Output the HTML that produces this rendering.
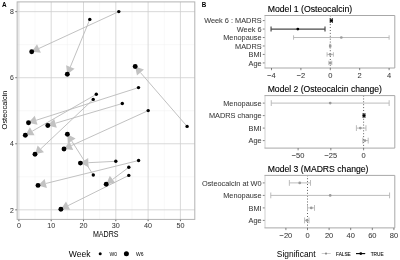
<!DOCTYPE html>
<html><head><meta charset="utf-8"><style>
html,body{margin:0;padding:0;background:#fff;width:400px;height:260px;overflow:hidden}
svg{display:block;filter:grayscale(1)}
text{font-family:"Liberation Sans", sans-serif}
</style></head><body>
<svg width="400" height="260" viewBox="0 0 400 260">
<rect width="400" height="260" fill="#fff"/>
<line x1="35.05" y1="1.9" x2="35.05" y2="219.4" stroke="#f1f1f1" stroke-width="0.5"/>
<line x1="67.35" y1="1.9" x2="67.35" y2="219.4" stroke="#f1f1f1" stroke-width="0.5"/>
<line x1="99.65" y1="1.9" x2="99.65" y2="219.4" stroke="#f1f1f1" stroke-width="0.5"/>
<line x1="131.95" y1="1.9" x2="131.95" y2="219.4" stroke="#f1f1f1" stroke-width="0.5"/>
<line x1="164.25" y1="1.9" x2="164.25" y2="219.4" stroke="#f1f1f1" stroke-width="0.5"/>
<line x1="17.15" y1="176.80" x2="194.8" y2="176.80" stroke="#f1f1f1" stroke-width="0.5"/>
<line x1="17.15" y1="110.74" x2="194.8" y2="110.74" stroke="#f1f1f1" stroke-width="0.5"/>
<line x1="17.15" y1="44.68" x2="194.8" y2="44.68" stroke="#f1f1f1" stroke-width="0.5"/>
<line x1="18.90" y1="1.9" x2="18.90" y2="219.4" stroke="#cfcfcf" stroke-width="0.8"/>
<line x1="51.20" y1="1.9" x2="51.20" y2="219.4" stroke="#cfcfcf" stroke-width="0.8"/>
<line x1="83.50" y1="1.9" x2="83.50" y2="219.4" stroke="#cfcfcf" stroke-width="0.8"/>
<line x1="115.80" y1="1.9" x2="115.80" y2="219.4" stroke="#cfcfcf" stroke-width="0.8"/>
<line x1="148.10" y1="1.9" x2="148.10" y2="219.4" stroke="#cfcfcf" stroke-width="0.8"/>
<line x1="180.40" y1="1.9" x2="180.40" y2="219.4" stroke="#cfcfcf" stroke-width="0.8"/>
<line x1="17.15" y1="209.83" x2="194.8" y2="209.83" stroke="#cfcfcf" stroke-width="0.8"/>
<line x1="17.15" y1="143.77" x2="194.8" y2="143.77" stroke="#cfcfcf" stroke-width="0.8"/>
<line x1="17.15" y1="77.71" x2="194.8" y2="77.71" stroke="#cfcfcf" stroke-width="0.8"/>
<line x1="17.15" y1="11.65" x2="194.8" y2="11.65" stroke="#cfcfcf" stroke-width="0.8"/>
<rect x="17.15" y="1.9" width="177.65" height="217.50" fill="none" stroke="#b3b3b3" stroke-width="1"/>
<line x1="18.90" y1="219.8" x2="18.90" y2="221.20000000000002" stroke="#333" stroke-width="0.8"/>
<text x="18.90" y="228.0" font-size="8.1" fill="#383838" stroke="#383838" stroke-width="0.05" text-anchor="middle" textLength="4.00" lengthAdjust="spacingAndGlyphs">0</text>
<line x1="51.20" y1="219.8" x2="51.20" y2="221.20000000000002" stroke="#333" stroke-width="0.8"/>
<text x="51.20" y="228.0" font-size="8.1" fill="#383838" stroke="#383838" stroke-width="0.05" text-anchor="middle" textLength="8.01" lengthAdjust="spacingAndGlyphs">10</text>
<line x1="83.50" y1="219.8" x2="83.50" y2="221.20000000000002" stroke="#333" stroke-width="0.8"/>
<text x="83.50" y="228.0" font-size="8.1" fill="#383838" stroke="#383838" stroke-width="0.05" text-anchor="middle" textLength="8.01" lengthAdjust="spacingAndGlyphs">20</text>
<line x1="115.80" y1="219.8" x2="115.80" y2="221.20000000000002" stroke="#333" stroke-width="0.8"/>
<text x="115.80" y="228.0" font-size="8.1" fill="#383838" stroke="#383838" stroke-width="0.05" text-anchor="middle" textLength="8.01" lengthAdjust="spacingAndGlyphs">30</text>
<line x1="148.10" y1="219.8" x2="148.10" y2="221.20000000000002" stroke="#333" stroke-width="0.8"/>
<text x="148.10" y="228.0" font-size="8.1" fill="#383838" stroke="#383838" stroke-width="0.05" text-anchor="middle" textLength="8.01" lengthAdjust="spacingAndGlyphs">40</text>
<line x1="180.40" y1="219.8" x2="180.40" y2="221.20000000000002" stroke="#333" stroke-width="0.8"/>
<text x="180.40" y="228.0" font-size="8.1" fill="#383838" stroke="#383838" stroke-width="0.05" text-anchor="middle" textLength="8.01" lengthAdjust="spacingAndGlyphs">50</text>
<line x1="15.349999999999998" y1="209.83" x2="16.75" y2="209.83" stroke="#333" stroke-width="0.8"/>
<text x="13.8" y="212.53" font-size="8.1" fill="#383838" stroke="#383838" stroke-width="0.05" text-anchor="end" textLength="3.84" lengthAdjust="spacingAndGlyphs">2</text>
<line x1="15.349999999999998" y1="143.77" x2="16.75" y2="143.77" stroke="#333" stroke-width="0.8"/>
<text x="13.8" y="146.47" font-size="8.1" fill="#383838" stroke="#383838" stroke-width="0.05" text-anchor="end" textLength="3.84" lengthAdjust="spacingAndGlyphs">4</text>
<line x1="15.349999999999998" y1="77.71" x2="16.75" y2="77.71" stroke="#333" stroke-width="0.8"/>
<text x="13.8" y="80.41" font-size="8.1" fill="#383838" stroke="#383838" stroke-width="0.05" text-anchor="end" textLength="3.84" lengthAdjust="spacingAndGlyphs">6</text>
<line x1="15.349999999999998" y1="11.65" x2="16.75" y2="11.65" stroke="#333" stroke-width="0.8"/>
<text x="13.8" y="14.35" font-size="8.1" fill="#383838" stroke="#383838" stroke-width="0.05" text-anchor="end" textLength="3.84" lengthAdjust="spacingAndGlyphs">8</text>
<text x="105.75" y="236.6" font-size="8.2" fill="#000" text-anchor="middle" textLength="25.6" lengthAdjust="spacingAndGlyphs">MADRS</text>
<text transform="translate(6.5,110) rotate(-90)" font-size="7.8" fill="#000" text-anchor="middle" textLength="38.8" lengthAdjust="spacingAndGlyphs">Osteocalcin</text>
<text x="2.0" y="6.8" font-size="6.6" font-weight="bold" fill="#000" textLength="4.6" lengthAdjust="spacingAndGlyphs">A</text>
<line x1="118.8" y1="11.6" x2="38.96" y2="48.45" stroke="#bababa" stroke-width="0.9"/>
<polygon points="31.70,51.80 37.03,44.25 40.90,52.64" fill="#c2c2c2"/>
<line x1="89.8" y1="19.4" x2="70.33" y2="66.90" stroke="#bababa" stroke-width="0.9"/>
<polygon points="67.30,74.30 66.06,65.15 74.61,68.65" fill="#c2c2c2"/>
<line x1="187.1" y1="126.4" x2="140.44" y2="72.55" stroke="#bababa" stroke-width="0.9"/>
<polygon points="135.20,66.50 143.93,69.52 136.95,75.57" fill="#c2c2c2"/>
<line x1="138.5" y1="87.6" x2="36.12" y2="120.27" stroke="#bababa" stroke-width="0.9"/>
<polygon points="28.50,122.70 34.72,115.87 37.53,124.67" fill="#c2c2c2"/>
<line x1="122.3" y1="103.5" x2="55.47" y2="123.23" stroke="#bababa" stroke-width="0.9"/>
<polygon points="47.80,125.50 54.16,118.80 56.78,127.66" fill="#c2c2c2"/>
<line x1="96.3" y1="94.3" x2="32.23" y2="131.21" stroke="#bababa" stroke-width="0.9"/>
<polygon points="25.30,135.20 29.93,127.20 34.54,135.21" fill="#c2c2c2"/>
<line x1="93.3" y1="175.0" x2="71.69" y2="140.95" stroke="#bababa" stroke-width="0.9"/>
<polygon points="67.40,134.20 75.59,138.48 67.79,143.43" fill="#c2c2c2"/>
<line x1="148.2" y1="110.6" x2="71.28" y2="145.68" stroke="#bababa" stroke-width="0.9"/>
<polygon points="64.00,149.00 69.36,141.48 73.20,149.88" fill="#c2c2c2"/>
<line x1="93.2" y1="99.4" x2="40.82" y2="148.81" stroke="#bababa" stroke-width="0.9"/>
<polygon points="35.00,154.30 37.65,145.45 43.99,152.17" fill="#c2c2c2"/>
<line x1="115.8" y1="161.3" x2="88.39" y2="162.69" stroke="#bababa" stroke-width="0.9"/>
<polygon points="80.40,163.10 88.16,158.08 88.62,167.31" fill="#c2c2c2"/>
<line x1="138.6" y1="160.5" x2="45.77" y2="183.48" stroke="#bababa" stroke-width="0.9"/>
<polygon points="38.00,185.40 44.66,178.99 46.88,187.96" fill="#c2c2c2"/>
<line x1="128.8" y1="167.3" x2="112.61" y2="179.41" stroke="#bababa" stroke-width="0.9"/>
<polygon points="106.20,184.20 109.84,175.71 115.37,183.11" fill="#c2c2c2"/>
<line x1="128.8" y1="175.4" x2="68.06" y2="205.63" stroke="#bababa" stroke-width="0.9"/>
<polygon points="60.90,209.20 66.00,201.50 70.12,209.77" fill="#c2c2c2"/>
<circle cx="118.8" cy="11.6" r="1.7" fill="#000"/>
<circle cx="31.7" cy="51.8" r="2.45" fill="#000"/>
<circle cx="89.8" cy="19.4" r="1.7" fill="#000"/>
<circle cx="67.3" cy="74.3" r="2.45" fill="#000"/>
<circle cx="187.1" cy="126.4" r="1.7" fill="#000"/>
<circle cx="135.2" cy="66.5" r="2.45" fill="#000"/>
<circle cx="138.5" cy="87.6" r="1.7" fill="#000"/>
<circle cx="28.5" cy="122.7" r="2.45" fill="#000"/>
<circle cx="122.3" cy="103.5" r="1.7" fill="#000"/>
<circle cx="47.8" cy="125.5" r="2.45" fill="#000"/>
<circle cx="96.3" cy="94.3" r="1.7" fill="#000"/>
<circle cx="25.3" cy="135.2" r="2.45" fill="#000"/>
<circle cx="93.3" cy="175.0" r="1.7" fill="#000"/>
<circle cx="67.4" cy="134.2" r="2.45" fill="#000"/>
<circle cx="148.2" cy="110.6" r="1.7" fill="#000"/>
<circle cx="64.0" cy="149.0" r="2.45" fill="#000"/>
<circle cx="93.2" cy="99.4" r="1.7" fill="#000"/>
<circle cx="35.0" cy="154.3" r="2.45" fill="#000"/>
<circle cx="115.8" cy="161.3" r="1.7" fill="#000"/>
<circle cx="80.4" cy="163.1" r="2.45" fill="#000"/>
<circle cx="138.6" cy="160.5" r="1.7" fill="#000"/>
<circle cx="38.0" cy="185.4" r="2.45" fill="#000"/>
<circle cx="128.8" cy="167.3" r="1.7" fill="#000"/>
<circle cx="106.2" cy="184.2" r="2.45" fill="#000"/>
<circle cx="128.8" cy="175.4" r="1.7" fill="#000"/>
<circle cx="60.9" cy="209.2" r="2.45" fill="#000"/>
<text x="68.8" y="257.1" font-size="8.4" fill="#000" textLength="21.7" lengthAdjust="spacingAndGlyphs">Week</text>
<circle cx="100.2" cy="253.8" r="1.5" fill="#000"/>
<text x="109.5" y="255.6" font-size="5" fill="#000">W0</text>
<circle cx="126.4" cy="253.8" r="2.5" fill="#000"/>
<text x="136" y="255.6" font-size="5" fill="#000">W6</text>
<text x="201.7" y="6.8" font-size="6.6" font-weight="bold" fill="#000" textLength="4.5" lengthAdjust="spacingAndGlyphs">B</text>
<text x="267.7" y="11.60" font-size="8.7" fill="#000" stroke="#000" stroke-width="0.12" textLength="84.5" lengthAdjust="spacingAndGlyphs">Model 1 (Osteocalcin)</text>
<line x1="330.30" y1="15.5" x2="330.30" y2="68.0" stroke="#222" stroke-width="0.8" stroke-dasharray="0.9,2"/>
<text x="261.6" y="23.28" font-size="7.9" fill="#383838" stroke="#383838" stroke-width="0.05" text-anchor="end" textLength="57.45" lengthAdjust="spacingAndGlyphs">Week 6 : MADRS</text>
<line x1="262.8" y1="20.58" x2="265.0" y2="20.58" stroke="#333" stroke-width="0.6"/>
<text x="261.6" y="31.75" font-size="7.9" fill="#383838" stroke="#383838" stroke-width="0.05" text-anchor="end" textLength="24.78" lengthAdjust="spacingAndGlyphs">Week 6</text>
<line x1="262.8" y1="29.05" x2="265.0" y2="29.05" stroke="#333" stroke-width="0.6"/>
<text x="261.6" y="40.22" font-size="7.9" fill="#383838" stroke="#383838" stroke-width="0.05" text-anchor="end" textLength="38.41" lengthAdjust="spacingAndGlyphs">Menopause</text>
<line x1="262.8" y1="37.52" x2="265.0" y2="37.52" stroke="#333" stroke-width="0.6"/>
<text x="261.6" y="48.68" font-size="7.9" fill="#383838" stroke="#383838" stroke-width="0.05" text-anchor="end" textLength="26.54" lengthAdjust="spacingAndGlyphs">MADRS</text>
<line x1="262.8" y1="45.98" x2="265.0" y2="45.98" stroke="#333" stroke-width="0.6"/>
<text x="261.6" y="57.15" font-size="7.9" fill="#383838" stroke="#383838" stroke-width="0.05" text-anchor="end" textLength="13.07" lengthAdjust="spacingAndGlyphs">BMI</text>
<line x1="262.8" y1="54.45" x2="265.0" y2="54.45" stroke="#333" stroke-width="0.6"/>
<text x="261.6" y="65.62" font-size="7.9" fill="#383838" stroke="#383838" stroke-width="0.05" text-anchor="end" textLength="13.08" lengthAdjust="spacingAndGlyphs">Age</text>
<line x1="262.8" y1="62.92" x2="265.0" y2="62.92" stroke="#333" stroke-width="0.6"/>
<line x1="330.30" y1="20.58" x2="332.36" y2="20.58" stroke="#4a4a4a" stroke-width="1.2"/>
<line x1="330.30" y1="18.08" x2="330.30" y2="23.08" stroke="#4a4a4a" stroke-width="1.2"/>
<line x1="332.36" y1="18.08" x2="332.36" y2="23.08" stroke="#4a4a4a" stroke-width="1.2"/>
<circle cx="331.33" cy="20.58" r="1.4" fill="#000"/>
<line x1="271.06" y1="29.05" x2="325.01" y2="29.05" stroke="#4a4a4a" stroke-width="1.2"/>
<line x1="271.06" y1="26.55" x2="271.06" y2="31.55" stroke="#4a4a4a" stroke-width="1.2"/>
<line x1="325.01" y1="26.55" x2="325.01" y2="31.55" stroke="#4a4a4a" stroke-width="1.2"/>
<circle cx="297.81" cy="29.05" r="1.4" fill="#000"/>
<line x1="293.55" y1="37.52" x2="389.10" y2="37.52" stroke="#b8b8b8" stroke-width="0.95"/>
<line x1="293.55" y1="35.32" x2="293.55" y2="39.72" stroke="#b8b8b8" stroke-width="0.95"/>
<line x1="389.10" y1="35.32" x2="389.10" y2="39.72" stroke="#b8b8b8" stroke-width="0.95"/>
<circle cx="341.32" cy="37.52" r="1.35" fill="#9a9a9a"/>
<line x1="329.56" y1="45.98" x2="330.74" y2="45.98" stroke="#b8b8b8" stroke-width="0.95"/>
<line x1="329.56" y1="43.78" x2="329.56" y2="48.18" stroke="#b8b8b8" stroke-width="0.95"/>
<line x1="330.74" y1="43.78" x2="330.74" y2="48.18" stroke="#b8b8b8" stroke-width="0.95"/>
<circle cx="330.15" cy="45.98" r="1.35" fill="#9a9a9a"/>
<line x1="327.07" y1="54.45" x2="333.39" y2="54.45" stroke="#b8b8b8" stroke-width="0.95"/>
<line x1="327.07" y1="52.25" x2="327.07" y2="56.65" stroke="#b8b8b8" stroke-width="0.95"/>
<line x1="333.39" y1="52.25" x2="333.39" y2="56.65" stroke="#b8b8b8" stroke-width="0.95"/>
<circle cx="330.15" cy="54.45" r="1.35" fill="#9a9a9a"/>
<line x1="328.83" y1="62.92" x2="331.77" y2="62.92" stroke="#b8b8b8" stroke-width="0.95"/>
<line x1="328.83" y1="60.72" x2="328.83" y2="65.12" stroke="#b8b8b8" stroke-width="0.95"/>
<line x1="331.77" y1="60.72" x2="331.77" y2="65.12" stroke="#b8b8b8" stroke-width="0.95"/>
<circle cx="330.30" cy="62.92" r="1.35" fill="#9a9a9a"/>
<line x1="265.0" y1="15.5" x2="265.0" y2="68.0" stroke="#cacaca" stroke-width="0.9"/>
<path d="M264.5 15.5H394.8V68.0H264.5" fill="none" stroke="#a8a8a8" stroke-width="1"/>
<line x1="271.50" y1="68.0" x2="271.50" y2="70.2" stroke="#333" stroke-width="0.6"/>
<text x="271.50" y="77.70" font-size="8.0" fill="#383838" stroke="#383838" stroke-width="0.05" text-anchor="middle" textLength="8.55" lengthAdjust="spacingAndGlyphs">−4</text>
<line x1="300.90" y1="68.0" x2="300.90" y2="70.2" stroke="#333" stroke-width="0.6"/>
<text x="300.90" y="77.70" font-size="8.0" fill="#383838" stroke="#383838" stroke-width="0.05" text-anchor="middle" textLength="8.55" lengthAdjust="spacingAndGlyphs">−2</text>
<line x1="330.30" y1="68.0" x2="330.30" y2="70.2" stroke="#333" stroke-width="0.6"/>
<text x="330.30" y="77.70" font-size="8.0" fill="#383838" stroke="#383838" stroke-width="0.05" text-anchor="middle" textLength="4.17" lengthAdjust="spacingAndGlyphs">0</text>
<line x1="359.70" y1="68.0" x2="359.70" y2="70.2" stroke="#333" stroke-width="0.6"/>
<text x="359.70" y="77.70" font-size="8.0" fill="#383838" stroke="#383838" stroke-width="0.05" text-anchor="middle" textLength="4.17" lengthAdjust="spacingAndGlyphs">2</text>
<line x1="389.10" y1="68.0" x2="389.10" y2="70.2" stroke="#333" stroke-width="0.6"/>
<text x="389.10" y="77.70" font-size="8.0" fill="#383838" stroke="#383838" stroke-width="0.05" text-anchor="middle" textLength="4.17" lengthAdjust="spacingAndGlyphs">4</text>
<text x="267.7" y="91.70" font-size="8.7" fill="#000" stroke="#000" stroke-width="0.12" textLength="114.3" lengthAdjust="spacingAndGlyphs">Model 2 (Osteocalcin change)</text>
<line x1="363.60" y1="95.6" x2="363.60" y2="148.1" stroke="#222" stroke-width="0.8" stroke-dasharray="0.9,2"/>
<text x="261.6" y="105.80" font-size="7.9" fill="#383838" stroke="#383838" stroke-width="0.05" text-anchor="end" textLength="38.41" lengthAdjust="spacingAndGlyphs">Menopause</text>
<line x1="262.8" y1="103.10" x2="265.0" y2="103.10" stroke="#333" stroke-width="0.6"/>
<text x="261.6" y="118.30" font-size="7.9" fill="#383838" stroke="#383838" stroke-width="0.05" text-anchor="end" textLength="52.70" lengthAdjust="spacingAndGlyphs">MADRS change</text>
<line x1="262.8" y1="115.60" x2="265.0" y2="115.60" stroke="#333" stroke-width="0.6"/>
<text x="261.6" y="130.80" font-size="7.9" fill="#383838" stroke="#383838" stroke-width="0.05" text-anchor="end" textLength="13.07" lengthAdjust="spacingAndGlyphs">BMI</text>
<line x1="262.8" y1="128.10" x2="265.0" y2="128.10" stroke="#333" stroke-width="0.6"/>
<text x="261.6" y="143.30" font-size="7.9" fill="#383838" stroke="#383838" stroke-width="0.05" text-anchor="end" textLength="13.08" lengthAdjust="spacingAndGlyphs">Age</text>
<line x1="262.8" y1="140.60" x2="265.0" y2="140.60" stroke="#333" stroke-width="0.6"/>
<line x1="271.25" y1="103.10" x2="389.15" y2="103.10" stroke="#b8b8b8" stroke-width="0.95"/>
<line x1="271.25" y1="100.20" x2="271.25" y2="106.00" stroke="#b8b8b8" stroke-width="0.95"/>
<line x1="389.15" y1="100.20" x2="389.15" y2="106.00" stroke="#b8b8b8" stroke-width="0.95"/>
<circle cx="330.20" cy="103.10" r="1.35" fill="#9a9a9a"/>
<line x1="363.14" y1="115.60" x2="364.91" y2="115.60" stroke="#4a4a4a" stroke-width="1.2"/>
<line x1="363.14" y1="113.10" x2="363.14" y2="118.10" stroke="#4a4a4a" stroke-width="1.2"/>
<line x1="364.91" y1="113.10" x2="364.91" y2="118.10" stroke="#4a4a4a" stroke-width="1.2"/>
<circle cx="363.99" cy="115.60" r="1.4" fill="#000"/>
<line x1="356.40" y1="128.10" x2="365.96" y2="128.10" stroke="#b8b8b8" stroke-width="0.95"/>
<line x1="356.40" y1="125.20" x2="356.40" y2="131.00" stroke="#b8b8b8" stroke-width="0.95"/>
<line x1="365.96" y1="125.20" x2="365.96" y2="131.00" stroke="#b8b8b8" stroke-width="0.95"/>
<circle cx="360.33" cy="128.10" r="1.35" fill="#9a9a9a"/>
<line x1="362.81" y1="140.60" x2="368.19" y2="140.60" stroke="#b8b8b8" stroke-width="0.95"/>
<line x1="362.81" y1="137.70" x2="362.81" y2="143.50" stroke="#b8b8b8" stroke-width="0.95"/>
<line x1="368.19" y1="137.70" x2="368.19" y2="143.50" stroke="#b8b8b8" stroke-width="0.95"/>
<circle cx="364.91" cy="140.60" r="1.35" fill="#9a9a9a"/>
<line x1="265.0" y1="95.6" x2="265.0" y2="148.1" stroke="#cacaca" stroke-width="0.9"/>
<path d="M264.5 95.6H394.8V148.1H264.5" fill="none" stroke="#a8a8a8" stroke-width="1"/>
<line x1="298.10" y1="148.1" x2="298.10" y2="150.29999999999998" stroke="#333" stroke-width="0.6"/>
<text x="298.10" y="157.80" font-size="8.0" fill="#383838" stroke="#383838" stroke-width="0.05" text-anchor="middle" textLength="12.72" lengthAdjust="spacingAndGlyphs">−50</text>
<line x1="330.85" y1="148.1" x2="330.85" y2="150.29999999999998" stroke="#333" stroke-width="0.6"/>
<text x="330.85" y="157.80" font-size="8.0" fill="#383838" stroke="#383838" stroke-width="0.05" text-anchor="middle" textLength="12.72" lengthAdjust="spacingAndGlyphs">−25</text>
<line x1="363.60" y1="148.1" x2="363.60" y2="150.29999999999998" stroke="#333" stroke-width="0.6"/>
<text x="363.60" y="157.80" font-size="8.0" fill="#383838" stroke="#383838" stroke-width="0.05" text-anchor="middle" textLength="4.17" lengthAdjust="spacingAndGlyphs">0</text>
<text x="267.7" y="171.50" font-size="8.7" fill="#000" stroke="#000" stroke-width="0.12" textLength="100.8" lengthAdjust="spacingAndGlyphs">Model 3 (MADRS change)</text>
<line x1="307.50" y1="175.4" x2="307.50" y2="227.9" stroke="#222" stroke-width="0.8" stroke-dasharray="0.9,2"/>
<text x="261.6" y="185.60" font-size="7.9" fill="#383838" stroke="#383838" stroke-width="0.05" text-anchor="end" textLength="59.64" lengthAdjust="spacingAndGlyphs">Osteocalcin at W0</text>
<line x1="262.8" y1="182.90" x2="265.0" y2="182.90" stroke="#333" stroke-width="0.6"/>
<text x="261.6" y="198.10" font-size="7.9" fill="#383838" stroke="#383838" stroke-width="0.05" text-anchor="end" textLength="38.41" lengthAdjust="spacingAndGlyphs">Menopause</text>
<line x1="262.8" y1="195.40" x2="265.0" y2="195.40" stroke="#333" stroke-width="0.6"/>
<text x="261.6" y="210.60" font-size="7.9" fill="#383838" stroke="#383838" stroke-width="0.05" text-anchor="end" textLength="13.07" lengthAdjust="spacingAndGlyphs">BMI</text>
<line x1="262.8" y1="207.90" x2="265.0" y2="207.90" stroke="#333" stroke-width="0.6"/>
<text x="261.6" y="223.10" font-size="7.9" fill="#383838" stroke="#383838" stroke-width="0.05" text-anchor="end" textLength="13.08" lengthAdjust="spacingAndGlyphs">Age</text>
<line x1="262.8" y1="220.40" x2="265.0" y2="220.40" stroke="#333" stroke-width="0.6"/>
<line x1="289.36" y1="182.90" x2="310.52" y2="182.90" stroke="#b8b8b8" stroke-width="0.95"/>
<line x1="289.36" y1="180.00" x2="289.36" y2="185.80" stroke="#b8b8b8" stroke-width="0.95"/>
<line x1="310.52" y1="180.00" x2="310.52" y2="185.80" stroke="#b8b8b8" stroke-width="0.95"/>
<circle cx="299.72" cy="182.90" r="1.35" fill="#9a9a9a"/>
<line x1="270.78" y1="195.40" x2="389.58" y2="195.40" stroke="#b8b8b8" stroke-width="0.95"/>
<line x1="270.78" y1="192.50" x2="270.78" y2="198.30" stroke="#b8b8b8" stroke-width="0.95"/>
<line x1="389.58" y1="192.50" x2="389.58" y2="198.30" stroke="#b8b8b8" stroke-width="0.95"/>
<circle cx="330.18" cy="195.40" r="1.35" fill="#9a9a9a"/>
<line x1="307.50" y1="207.90" x2="314.52" y2="207.90" stroke="#b8b8b8" stroke-width="0.95"/>
<line x1="307.50" y1="205.00" x2="307.50" y2="210.80" stroke="#b8b8b8" stroke-width="0.95"/>
<line x1="314.52" y1="205.00" x2="314.52" y2="210.80" stroke="#b8b8b8" stroke-width="0.95"/>
<circle cx="311.28" cy="207.90" r="1.35" fill="#9a9a9a"/>
<line x1="304.58" y1="220.40" x2="309.01" y2="220.40" stroke="#b8b8b8" stroke-width="0.95"/>
<line x1="304.58" y1="217.50" x2="304.58" y2="223.30" stroke="#b8b8b8" stroke-width="0.95"/>
<line x1="309.01" y1="217.50" x2="309.01" y2="223.30" stroke="#b8b8b8" stroke-width="0.95"/>
<circle cx="306.96" cy="220.40" r="1.35" fill="#9a9a9a"/>
<line x1="265.0" y1="175.4" x2="265.0" y2="227.9" stroke="#cacaca" stroke-width="0.9"/>
<path d="M264.5 175.4H394.8V227.9H264.5" fill="none" stroke="#a8a8a8" stroke-width="1"/>
<line x1="285.90" y1="227.9" x2="285.90" y2="230.1" stroke="#333" stroke-width="0.6"/>
<text x="285.90" y="237.60" font-size="8.0" fill="#383838" stroke="#383838" stroke-width="0.05" text-anchor="middle" textLength="12.72" lengthAdjust="spacingAndGlyphs">−20</text>
<line x1="307.50" y1="227.9" x2="307.50" y2="230.1" stroke="#333" stroke-width="0.6"/>
<text x="307.50" y="237.60" font-size="8.0" fill="#383838" stroke="#383838" stroke-width="0.05" text-anchor="middle" textLength="4.17" lengthAdjust="spacingAndGlyphs">0</text>
<line x1="329.10" y1="227.9" x2="329.10" y2="230.1" stroke="#333" stroke-width="0.6"/>
<text x="329.10" y="237.60" font-size="8.0" fill="#383838" stroke="#383838" stroke-width="0.05" text-anchor="middle" textLength="8.34" lengthAdjust="spacingAndGlyphs">20</text>
<line x1="350.70" y1="227.9" x2="350.70" y2="230.1" stroke="#333" stroke-width="0.6"/>
<text x="350.70" y="237.60" font-size="8.0" fill="#383838" stroke="#383838" stroke-width="0.05" text-anchor="middle" textLength="8.34" lengthAdjust="spacingAndGlyphs">40</text>
<line x1="372.30" y1="227.9" x2="372.30" y2="230.1" stroke="#333" stroke-width="0.6"/>
<text x="372.30" y="237.60" font-size="8.0" fill="#383838" stroke="#383838" stroke-width="0.05" text-anchor="middle" textLength="8.34" lengthAdjust="spacingAndGlyphs">60</text>
<line x1="393.90" y1="227.9" x2="393.90" y2="230.1" stroke="#333" stroke-width="0.6"/>
<text x="393.90" y="237.60" font-size="8.0" fill="#383838" stroke="#383838" stroke-width="0.05" text-anchor="middle" textLength="8.34" lengthAdjust="spacingAndGlyphs">80</text>
<text x="276.8" y="256.8" font-size="8.5" fill="#000" textLength="38.8" lengthAdjust="spacingAndGlyphs">Significant</text>
<line x1="321.7" y1="253.5" x2="330.7" y2="253.5" stroke="#b8b8b8" stroke-width="0.7"/>
<circle cx="326" cy="253.6" r="1.05" fill="#888"/>
<text x="336" y="255.9" font-size="5.2" fill="#000" stroke="#000" stroke-width="0.08" textLength="14.8" lengthAdjust="spacingAndGlyphs">FALSE</text>
<line x1="356" y1="253.6" x2="365.2" y2="253.6" stroke="#000" stroke-width="1.1"/>
<circle cx="360.8" cy="253.6" r="1.4" fill="#000"/>
<text x="370.7" y="255.9" font-size="5.2" fill="#000" stroke="#000" stroke-width="0.08" textLength="12.9" lengthAdjust="spacingAndGlyphs">TRUE</text>
</svg>
</body></html>
